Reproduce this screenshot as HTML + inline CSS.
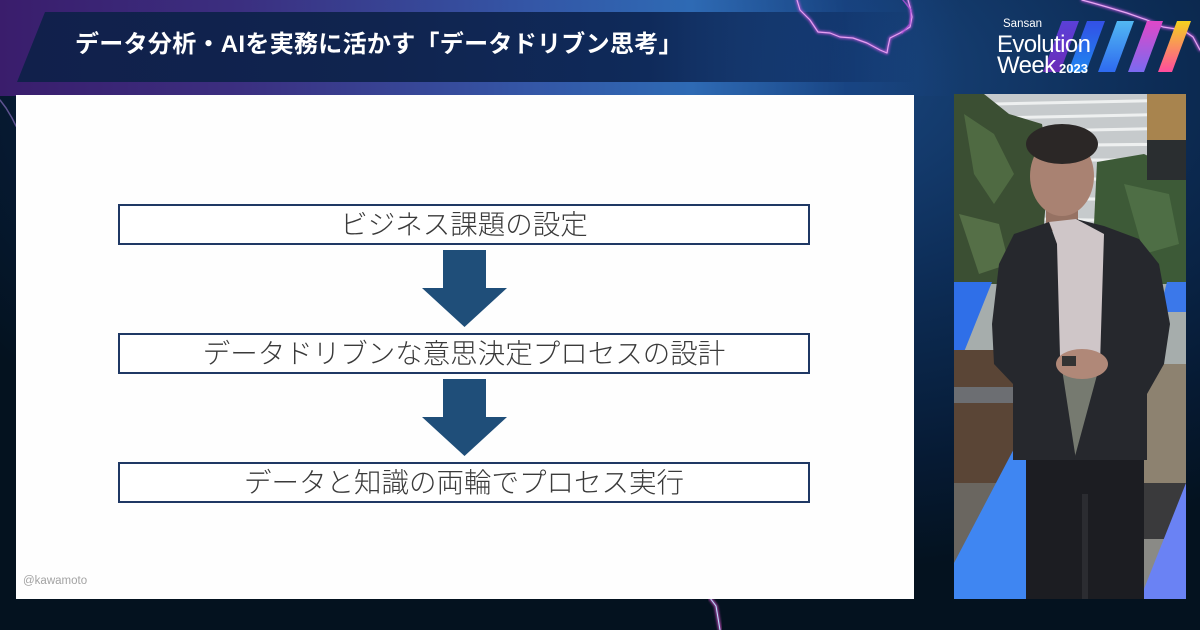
<!DOCTYPE html>
<html><head><meta charset="utf-8">
<style>
html,body{margin:0;padding:0;}
body{width:1200px;height:630px;overflow:hidden;position:relative;
background:radial-gradient(ellipse 900px 500px at 62% 12%, #1c4b86 0%, #0d2d57 45%, #061a33 80%, #04121f 100%);
font-family:"Liberation Sans","Noto Sans CJK JP",sans-serif;}
.abs{position:absolute;}
#topband{left:0;top:0;width:960px;height:96px;
background:linear-gradient(90deg,#3a1d6c 0%,#3b2f80 25%,#3456a6 55%,#2e6ab4 72%,rgba(25,70,140,0.5) 88%,rgba(15,45,90,0) 100%);}
#banner{left:17px;top:12px;width:900px;height:70px;
clip-path:polygon(28px 0,100% 0,100% 100%,0 100%);
background:linear-gradient(90deg,#11204b 0%,#10244f 40%,#0f2a5a 70%,rgba(14,45,95,0.6) 90%,rgba(14,45,95,0) 100%);}
#title{left:75px;top:33px;color:#fff;font-size:24px;line-height:24px;font-weight:700;white-space:nowrap;letter-spacing:0.3px;
font-family:"Liberation Sans","Noto Sans CJK JP",sans-serif;}
#slide{left:16px;top:95px;width:898px;height:504px;background:#fefefe;}
.box{position:absolute;left:118px;width:692px;height:41px;box-sizing:border-box;border:2px solid #1f3864;background:#fff;
text-align:center;font-size:27.5px;line-height:37px;color:#3a3a3a;font-weight:300;white-space:nowrap;
font-family:"Liberation Sans","Noto Sans CJK JP",sans-serif;}
#kw{left:23px;top:575px;font-size:11.5px;color:#a3a3a3;font-family:"Liberation Sans",sans-serif;}
#photo{left:954px;top:94px;width:232px;height:505px;overflow:hidden;}
.logo{color:#fff;font-family:"Liberation Sans",sans-serif;white-space:nowrap;}
</style></head>
<body>
<div id="topband" class="abs"></div>
<div id="banner" class="abs"></div>
<div id="title" class="abs">データ分析・AIを実務に活かす「データドリブン思考」</div>

<!-- lightning -->
<svg class="abs" style="left:0;top:0" width="1200" height="630" viewBox="0 0 1200 630">
 <defs><filter id="gl" x="-20%" y="-20%" width="140%" height="140%"><feGaussianBlur stdDeviation="1.2"/></filter></defs>
 <g fill="none" stroke-linejoin="round" stroke-linecap="round">
  <polyline points="797,0 800,10 810,20 818,32 830,33 840,37 853,38 867,43 880,50 887,53 888,47 890,38 900,33 910,27 912,17 910,7 908,0" stroke="#c255e0" stroke-width="3" filter="url(#gl)" opacity="0.8"/>
  <polyline points="797,0 800,10 810,20 818,32 830,33 840,37 853,38 867,43 880,50 887,53 888,47 890,38 900,33 910,27 912,17 910,7 908,0" stroke="#e4a0f0" stroke-width="1.2"/>
  <polyline points="1082,0 1093,3 1107,7 1127,13 1147,20 1163,27 1183,30 1193,37 1200,50" stroke="#c255e0" stroke-width="3" filter="url(#gl)" opacity="0.8"/>
  <polyline points="1082,0 1093,3 1107,7 1127,13 1147,20 1163,27 1183,30 1193,37 1200,50" stroke="#e6a8f2" stroke-width="1.2"/>
  <polyline points="903,0 911,10 910,24 902,33" stroke="#b050d8" stroke-width="1.5" opacity="0.8"/>
  <polyline points="0,100 6,108 12,118 16,126" stroke="#9a7ad0" stroke-width="1.5" opacity="0.6"/>
  <polyline points="710,598 716,606 718,618 720,630" stroke="#d050c8" stroke-width="3" filter="url(#gl)" opacity="0.9"/>
  <polyline points="710,598 716,606 718,618 720,630" stroke="#b8e8ff" stroke-width="1"/>
 </g>
</svg>

<!-- logo -->
<svg class="abs" style="left:1030px;top:18px" width="170" height="60" viewBox="0 0 170 60">
 <defs>
  <linearGradient id="s1" x1="0" y1="0" x2="0" y2="1"><stop offset="0" stop-color="#5a40d8"/><stop offset="1" stop-color="#6b2cb8"/></linearGradient>
  <linearGradient id="s2" x1="0" y1="0" x2="0" y2="1"><stop offset="0" stop-color="#3350e6"/><stop offset="1" stop-color="#1f86f0"/></linearGradient>
  <linearGradient id="s3" x1="0" y1="0" x2="0" y2="1"><stop offset="0" stop-color="#52b8f2"/><stop offset="1" stop-color="#2e6af0"/></linearGradient>
  <linearGradient id="s4" x1="0" y1="0" x2="0" y2="1"><stop offset="0" stop-color="#e048c8"/><stop offset="1" stop-color="#7a6af0"/></linearGradient>
  <linearGradient id="s5" x1="0" y1="0" x2="0" y2="1"><stop offset="0" stop-color="#f4d21e"/><stop offset="1" stop-color="#ff4c9e"/></linearGradient>
 </defs>
 <polygon points="32,3 49,3 30,54 13,54" fill="url(#s1)"/>
 <polygon points="57,3 75,3 56,54 38,54" fill="url(#s2)"/>
 <polygon points="87,3 104,3 85,54 68,54" fill="url(#s3)"/>
 <polygon points="117,3 133,3 114,54 98,54" fill="url(#s4)"/>
 <polygon points="147,3 161,3 142,54 128,54" fill="url(#s5)"/>
</svg>
<div class="abs logo" style="left:1003px;top:18px;font-size:11.5px;line-height:13px;">Sansan</div>
<div class="abs logo" style="left:997px;top:32px;font-size:24px;line-height:26px;letter-spacing:-0.6px;">Evolution</div>
<div class="abs logo" style="left:997px;top:54px;font-size:24px;line-height:24px;letter-spacing:-0.6px;">Week</div>
<div class="abs logo" style="left:1059px;top:62px;font-size:13px;line-height:13px;font-weight:700;">2023</div>

<!-- slide -->
<div id="slide" class="abs"></div>
<div class="box" style="top:204px;">ビジネス課題の設定</div>
<div class="box" style="top:333px;">データドリブンな意思決定プロセスの設計</div>
<div class="box" style="top:462px;">データと知識の両輪でプロセス実行</div>
<svg class="abs" style="left:0;top:0" width="1200" height="630" viewBox="0 0 1200 630">
 <polygon points="443,250 486,250 486,288 507,288 464.5,327 422,288 443,288" fill="#1f4e79"/>
 <polygon points="443,379 486,379 486,417 507,417 464.5,456 422,417 443,417" fill="#1f4e79"/>
</svg>
<div id="kw" class="abs">@kawamoto</div>

<!-- photo -->
<svg id="photo" class="abs" width="232" height="505" viewBox="0 0 232 505">
 <rect width="232" height="505" fill="#767a70"/>
 <rect x="0" y="0" width="232" height="190" fill="#c6cacc"/>
 <g stroke="#eef0f0" stroke-width="3">
  <line x1="40" y1="10" x2="232" y2="6"/><line x1="40" y1="24" x2="232" y2="20"/>
  <line x1="40" y1="38" x2="232" y2="34"/><line x1="40" y1="52" x2="232" y2="50"/>
  <line x1="40" y1="66" x2="232" y2="66"/><line x1="40" y1="84" x2="232" y2="86"/>
  <line x1="40" y1="104" x2="232" y2="106"/><line x1="40" y1="124" x2="232" y2="128"/>
 </g>
 <path d="M0 0 L30 0 L55 20 L88 30 L95 70 L90 130 L75 190 L60 260 L0 260 Z" fill="#3b4f33"/>
 <path d="M10 20 L40 40 L60 80 L40 110 L20 80 Z" fill="#4f6a42"/>
 <path d="M5 120 L45 130 L55 170 L25 180 Z" fill="#556f47"/>
 <path d="M143 68 L190 60 L232 80 L232 200 L200 215 L160 190 L140 130 Z" fill="#3d5a37"/>
 <path d="M170 90 L215 100 L225 150 L190 160 Z" fill="#4e6e45"/>
 <rect x="193" y="0" width="39" height="48" fill="#a8844e"/>
 <rect x="193" y="46" width="39" height="40" fill="#2a2e30"/>
 <rect x="0" y="190" width="232" height="80" fill="#a6adac"/>
 <polygon points="0,188 38,188 6,268 0,268" fill="#2f6fe8"/>
 <polygon points="213,188 232,188 232,218 205,218" fill="#3b78ea"/>
 <rect x="0" y="256" width="63" height="133" fill="#5a4536"/>
 <rect x="0" y="293" width="60" height="16" fill="#6c6e72"/>
 <rect x="186" y="270" width="46" height="120" fill="#8d8270"/>
 <rect x="120" y="389" width="112" height="56" fill="#3a3a3c"/>
 <rect x="80" y="445" width="152" height="60" fill="#8a8a86"/>
 <rect x="0" y="389" width="80" height="116" fill="#6a6660"/>
 <polygon points="63,349 82,349 82,505 0,505 0,469" fill="#3f86f2"/>
 <polygon points="232,389 232,505 186,505" fill="#6a82f4"/>
 <!-- person -->
 <rect x="92" y="105" width="32" height="32" fill="#967263"/>
 <ellipse cx="108" cy="82" rx="32" ry="40" fill="#a98272"/>
 <ellipse cx="108" cy="50" rx="36" ry="20" fill="#2b2726"/>
 <polygon points="95,128 122,125 150,135 150,275 103,275 100,140" fill="#cfc6c8"/>
 <polygon points="95,128 60,140 45,170 38,230 40,270 59,290 59,366 122,366 106,262 103,150" fill="#26282d"/>
 <polygon points="122,125 150,132 185,145 205,170 216,230 210,270 193,300 193,366 120,366 146,270 150,140" fill="#26282d"/>
 <ellipse cx="128" cy="270" rx="26" ry="15" fill="#b08878"/>
 <rect x="108" y="262" width="14" height="10" fill="#333"/>
 <polygon points="72,366 190,366 190,505 72,505" fill="#1c1d22"/>
 <rect x="128" y="400" width="6" height="105" fill="#2b2c31"/>
</svg>
</body></html>
